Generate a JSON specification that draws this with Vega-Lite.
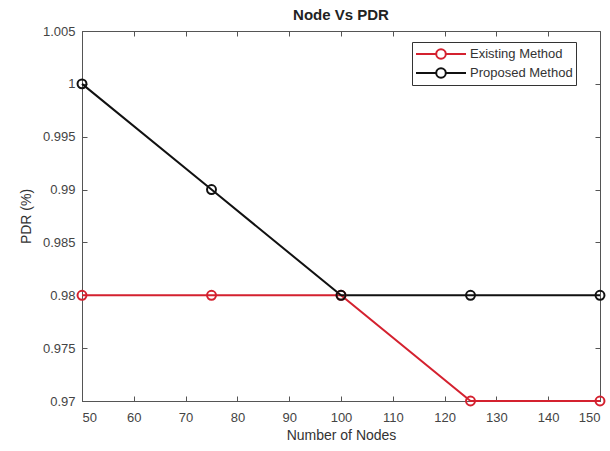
{
  "$schema": "https://vega.github.io/schema/vega-lite/v6.json",
  "autosize": "none",
  "width": 518,
  "height": 370,
  "padding": {"left": 82, "top": 31, "right": 10, "bottom": 50},
  "background": "white",
  "title": {"text": "Node Vs PDR", "font": "Liberation Sans", "fontSize": 15, "fontWeight": "bold", "color": "#222", "offset": 2},
  "config": {
    "view": {"stroke": "#555", "strokeWidth": 1},
    "axis": {"grid": false, "domainColor": "#555", "tickColor": "#555", "labelColor": "#444", "labelFont": "Liberation Sans", "labelFontSize": 13, "titleFont": "Liberation Sans", "titleFontSize": 14, "titleColor": "#333", "titleFontWeight": "normal", "tickSize": -5}
  },
  "data": {"values": [
    {"nodes": 50, "pdr": 0.98, "method": "Existing Method"},
    {"nodes": 75, "pdr": 0.98, "method": "Existing Method"},
    {"nodes": 100, "pdr": 0.98, "method": "Existing Method"},
    {"nodes": 125, "pdr": 0.97, "method": "Existing Method"},
    {"nodes": 150, "pdr": 0.97, "method": "Existing Method"},
    {"nodes": 50, "pdr": 1.0, "method": "Proposed Method"},
    {"nodes": 75, "pdr": 0.99, "method": "Proposed Method"},
    {"nodes": 100, "pdr": 0.98, "method": "Proposed Method"},
    {"nodes": 125, "pdr": 0.98, "method": "Proposed Method"},
    {"nodes": 150, "pdr": 0.98, "method": "Proposed Method"}
  ]},
  "layer": [
    {
      "mark": {"type": "line", "strokeWidth": 2, "point": {"filled": false, "size": 80, "strokeWidth": 2}},
      "encoding": {
        "x": {"field": "nodes", "type": "quantitative", "scale": {"domain": [50, 150], "nice": false, "zero": false},
              "axis": {"values": [50,60,70,80,90,100,110,120,130,140,150], "title": "Number of Nodes", "labelPadding": 15, "titlePadding": 4}},
        "y": {"field": "pdr", "type": "quantitative", "scale": {"domain": [0.97, 1.005], "nice": false, "zero": false},
              "axis": {"values": [0.97,0.975,0.98,0.985,0.99,0.995,1.0,1.005], "format": ".3~f", "title": "PDR (%)", "labelPadding": 12, "titlePadding": 9}},
        "color": {"field": "method", "type": "nominal",
                  "scale": {"domain": ["Existing Method", "Proposed Method"], "range": ["#d4212f", "#111111"]},
                  "legend": {"title": null, "orient": "none", "legendX": 330, "legendY": 11,
                             "strokeColor": "#333", "fillColor": "white", "padding": 3,
                             "symbolType": "M-1,0L1.525,0M2.725,0L5.25,0M1.525,0A0.6,0.6 0 1,0 2.725,0A0.6,0.6 0 1,0 1.525,0",
                             "symbolSize": 256, "symbolStrokeWidth": 2, "symbolFillColor": "transparent", "labelOffset": 37,
                             "labelFont": "Liberation Sans", "labelFontSize": 13, "labelColor": "#333", "rowPadding": 1}}
      }
    },
    {
      "mark": {"type": "point", "opacity": 0},
      "encoding": {
        "x": {"field": "nodes", "type": "quantitative", "axis": {"orient": "top", "values": [50,60,70,80,90,100,110,120,130,140,150], "labels": false, "title": null, "domain": false}},
        "y": {"field": "pdr", "type": "quantitative", "axis": {"orient": "right", "values": [0.97,0.975,0.98,0.985,0.99,0.995,1.0,1.005], "labels": false, "title": null, "domain": false}}
      }
    }
  ],
  "resolve": {"axis": {"x": "independent", "y": "independent"}}
}
